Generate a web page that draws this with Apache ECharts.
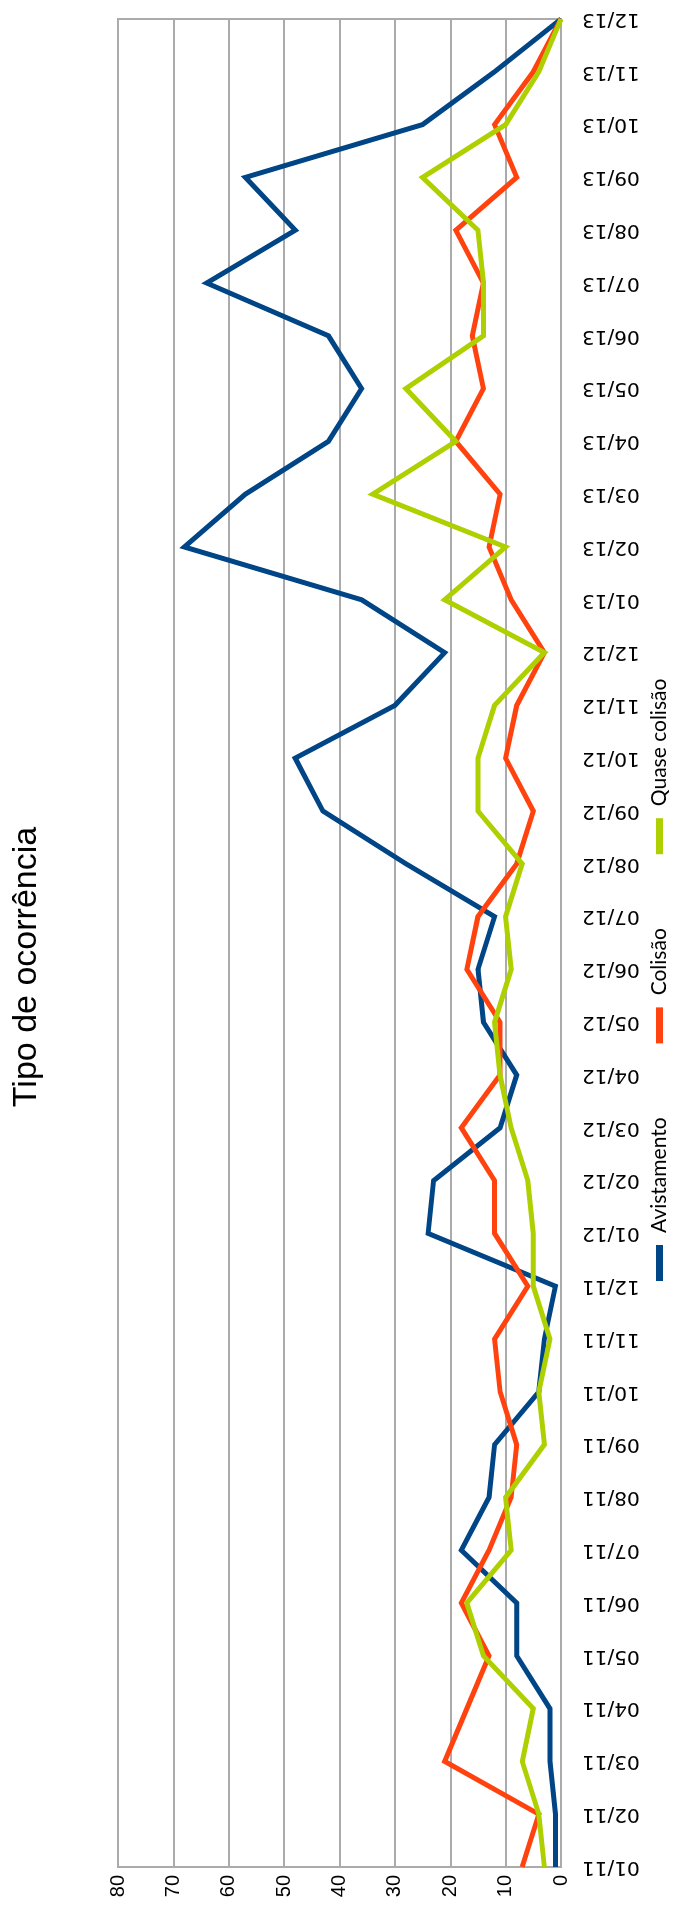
<!DOCTYPE html>
<html>
<head>
<meta charset="utf-8">
<script src="https://cdn.jsdelivr.net/npm/echarts@6/dist/echarts.min.js"></script>
<style>
  html, body { margin: 0; padding: 0; background: #fff; overflow: hidden; }
  /* chart is laid out landscape and turned a quarter to fit the tall page */
  #chart {
    position: absolute; left: 0; top: 0;
    width: 1910px; height: 677px;
    transform-origin: 0 0;
    transform: translate(0px, 1910px) rotate(-90deg);
  }
</style>
</head>
<body>
<div id="chart"></div>
<script>
const months = [
  "01/11", "02/11", "03/11", "04/11", "05/11", "06/11", "07/11", "08/11", "09/11", "10/11", "11/11", "12/11",
  "01/12", "02/12", "03/12", "04/12", "05/12", "06/12", "07/12", "08/12", "09/12", "10/12", "11/12", "12/12",
  "01/13", "02/13", "03/13", "04/13", "05/13", "06/13", "07/13", "08/13", "09/13", "10/13", "11/13", "12/13"
]
const avistamento = [1, 1, 2, 2, 8, 8, 18, 13, 12, 4, 3, 1, 24, 23, 11, 8, 14, 15, 12, 28, 43, 48, 30, 21, 36, 68, 57, 42, 36, 42, 64, 48, 57, 25, 12, 0]
const colisao = [7, 4, 21, 17, 13, 18, 13, 9, 8, 11, 12, 6, 12, 12, 18, 11, 11, 17, 15, 8, 5, 10, 8, 3, 9, 13, 11, 19, 14, 16, 14, 19, 8, 12, 5, 0]
const quaseColisao = [3, 4, 7, 5, 14, 17, 9, 10, 3, 4, 2, 5, 5, 6, 9, 11, 12, 9, 10, 7, 15, 15, 12, 3, 21, 10, 34, 19, 28, 14, 14, 15, 25, 10, 4, 0]
const seriesNames = ["Avistamento", "Colisão", "Quase colisão"]
const seriesColors = ["#004586", "#ff420e", "#aecf00"]
const valueMax = 80
const valueStep = 10

const chart = echarts.init(document.getElementById("chart"))

const lineSeries = [avistamento, colisao, quaseColisao].map((vals, i) => ({
  name: seriesNames[i],
  type: "line",
  data: vals,
  symbol: "none",
  color: seriesColors[i],
  lineStyle: { width: 5, color: seriesColors[i], join: "miter" }
}))

chart.setOption({
  animation: false,
  title: {
    text: "Tipo de ocorrência",
    left: 943,
    top: 10,
    textAlign: "center",
    padding: 0,
    textStyle: { fontFamily: "Liberation Sans", fontSize: 34, fontWeight: "normal", color: "#000" }
  },
  legend: {
    data: seriesNames,
    left: 629,
    top: 649,
    padding: 0,
    itemGap: 74,
    itemWidth: 36,
    itemHeight: 7,
    icon: "rect",
    textStyle: { fontFamily: "Lato", fontSize: 21, color: "#000", padding: [0, 0, 0, 7] }
  },
  grid: {
    left: 43, right: 19, top: 118, bottom: 116,
    show: true, borderColor: "#ababab", borderWidth: 2
  },
  xAxis: {
    type: "category",
    data: months,
    boundaryGap: false,
    axisLine: { lineStyle: { color: "#ababab", width: 2 } },
    axisTick: { show: false },
    axisLabel: { rotate: 90, margin: 21, fontFamily: "DejaVu Sans", fontSize: 20, color: "#000", interval: 0 }
  },
  yAxis: {
    type: "value",
    min: 0,
    max: valueMax,
    interval: valueStep,
    axisLine: { show: true, lineStyle: { color: "#ababab", width: 2 } },
    axisTick: { show: false },
    splitLine: { lineStyle: { color: "#ababab", width: 2 } },
    axisLabel: { margin: 8, fontFamily: "Liberation Sans", fontSize: 20, color: "#000" }
  },
  series: lineSeries
})
</script>
</body>
</html>
